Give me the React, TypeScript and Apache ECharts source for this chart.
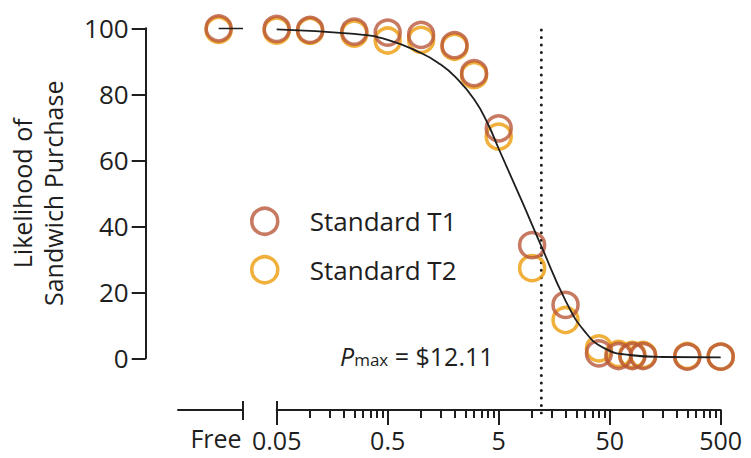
import React, { useEffect, useRef } from 'react';
import * as echarts from 'echarts';

// ---- data ----
const prices = [0.05, 0.1, 0.25, 0.5, 1, 2, 3, 5, 10, 20, 40, 60, 80, 100, 250, 500];
const t1Values = [99.8, 99.5, 99.0, 98.7, 98.0, 94.9, 86.4, 69.7, 34.3, 16.2, 1.5, 0.7, 0.7, 0.7, 0.5, 0.5];
const t2Values = [99.3, 99.2, 98.4, 96.3, 96.5, 94.4, 85.8, 67.2, 27.3, 11.6, 3.0, 1.3, 1.0, 1.0, 0.7, 0.5];
const freeT1 = 100;
const freeT2 = 99.5;
const freeFit = 100;

const fitPrices = [0.05, 0.25, 0.5, 1, 1.5, 2, 3, 4, 5, 8, 12.1, 20, 30, 45, 75, 150, 500];
const fitValues = [99.7, 98.3, 96.5, 92.5, 89.0, 85.5, 78.5, 71, 63.5, 48, 34, 17.5, 8, 3, 1, 0.4, 0.3];

const pmax = 12.11;

const xTickLabels = [0.05, 0.5, 5, 50, 500];
const xMinorTicks = [
  0.1, 0.15, 0.2, 0.25, 0.3, 0.35, 0.4, 0.45,
  1, 1.5, 2, 2.5, 3, 3.5, 4, 4.5,
  10, 15, 20, 25, 30, 35, 40, 45,
  100, 150, 200, 250, 300, 350, 400, 450,
];
const yTicks = [0, 20, 40, 60, 80, 100];
const freeLabel = 'Free';
const seriesNames = ['Standard T1', 'Standard T2'];

// free-axis geometry (value space of the small "Free" axis)
const freeMin = -1;
const freeMax = 0.6;
const freePos = 0;

const FONT = "'Open Sans', 'Noto Sans', sans-serif";
const INK = '#1e1e1e';
const C1 = '#B9573A';
const C2 = '#EC9C0A';

const AX_OFFSET = 51.7;

function buildOption() {
  const ringStyle = (c: string) => ({ color: 'rgba(0,0,0,0)', borderColor: c, borderWidth: 3.5 });
  const axisLineStyle = { color: INK, width: 2 };

  return {
    animation: false,
    backgroundColor: '#ffffff',
    grid: [
      { left: 276.7, top: 28.3, width: 444, height: 330, containLabel: false, outerBoundsMode: 'none' },
      { left: 178, top: 28.3, width: 65, height: 330, containLabel: false, outerBoundsMode: 'none' },
      { left: 276.7, top: 26, width: 444, height: 387, containLabel: false, outerBoundsMode: 'none' },
    ],
    xAxis: [
      {
        gridIndex: 0, type: 'log', logBase: 10, min: 0.05, max: 500, position: 'bottom', offset: AX_OFFSET,
        axisLine: { show: true, onZero: false, lineStyle: axisLineStyle },
        axisTick: { show: true, customValues: xTickLabels, length: 15, lineStyle: axisLineStyle },
        axisLabel: {
          show: true, customValues: xTickLabels, fontSize: 25, lineHeight: 21, color: INK, fontFamily: FONT, margin: 19,
          hideOverlap: false, showMinLabel: true, showMaxLabel: true,
          formatter: (v: any) => String(parseFloat(Number(v).toPrecision(4))),
        },
        splitLine: { show: false }, minorTick: { show: false },
      },
      {
        gridIndex: 0, type: 'log', logBase: 10, min: 0.05, max: 500, position: 'bottom', offset: AX_OFFSET,
        axisLine: { show: false, onZero: false },
        axisTick: { show: true, customValues: xMinorTicks, length: 8, lineStyle: axisLineStyle },
        axisLabel: { show: false },
        splitLine: { show: false },
      },
      {
        gridIndex: 0, type: 'log', logBase: 10, min: 0.05, max: 500, position: 'bottom', offset: AX_OFFSET,
        axisLine: { show: false, onZero: false },
        axisTick: { show: true, inside: true, customValues: [0.05], length: 9, lineStyle: axisLineStyle },
        axisLabel: { show: false },
        splitLine: { show: false },
      },
      {
        gridIndex: 1, type: 'value', min: freeMin, max: freeMax, position: 'bottom', offset: AX_OFFSET,
        axisLine: { show: true, onZero: false, lineStyle: axisLineStyle },
        axisTick: { show: true, customValues: [freeMax], length: 10, lineStyle: axisLineStyle },
        axisLabel: { show: false },
        splitLine: { show: false },
        name: freeLabel, nameLocation: 'middle', nameGap: 15,
        nameTextStyle: { fontSize: 25, color: INK, fontFamily: FONT, padding: [0, 0, 0, 11] },
      },
      {
        gridIndex: 1, type: 'value', min: freeMin, max: freeMax, position: 'bottom', offset: AX_OFFSET,
        axisLine: { show: false, onZero: false },
        axisTick: { show: true, inside: true, customValues: [freeMax], length: 9, lineStyle: axisLineStyle },
        axisLabel: { show: false },
        splitLine: { show: false },
      },
      {
        gridIndex: 2, type: 'log', logBase: 10, min: 0.05, max: 500, show: false,
      },
    ],
    yAxis: [
      {
        gridIndex: 0, type: 'value', min: 0, max: 100, interval: 20, position: 'left', offset: 131,
        axisLine: { show: true, onZero: false, lineStyle: axisLineStyle },
        axisTick: { show: true, length: 14, lineStyle: axisLineStyle, customValues: yTicks },
        axisLabel: { show: true, fontSize: 26, color: INK, fontFamily: FONT, margin: 17, customValues: yTicks },
        splitLine: { show: false },
        name: 'Likelihood of\nSandwich Purchase', nameLocation: 'middle', nameGap: 77,
        nameTextStyle: { fontSize: 25, lineHeight: 31, color: INK, fontFamily: FONT },
      },
      { gridIndex: 1, type: 'value', min: 0, max: 100, show: false },
      { gridIndex: 2, type: 'value', min: 0, max: 1, show: false },
    ],
    legend: {
      orient: 'vertical', left: 245, top: 201.5, itemWidth: 80, itemHeight: 26, itemGap: 19,
      selectedMode: false,
      data: [
        { name: seriesNames[0], icon: 'circle', itemStyle: ringStyle(C1) },
        { name: seriesNames[1], icon: 'circle', itemStyle: ringStyle(C2) },
      ],
      textStyle: { fontSize: 26, color: INK, fontFamily: FONT },
    },
    graphic: [
      {
        type: 'text', left: 340, top: 343, z: 10,
        style: {
          text: '{p|P}{s|max}{e| = $12.11}',
          fill: INK,
          rich: {
            p: { fontSize: 25, fontStyle: 'italic', fontFamily: FONT, fill: INK, lineHeight: 25, verticalAlign: 'bottom' },
            s: { fontSize: 17, fontFamily: FONT, fill: INK, lineHeight: 17, verticalAlign: 'bottom' },
            e: { fontSize: 25, fontFamily: FONT, fill: INK, lineHeight: 25, verticalAlign: 'bottom' },
          },
        },
      },
    ],
    series: [
      {
        name: seriesNames[1], type: 'scatter', xAxisIndex: 0, yAxisIndex: 0, z: 2,
        symbol: 'circle', symbolSize: 25, itemStyle: ringStyle(C2),
        data: prices.map((p, i) => [p, t2Values[i]]),
      },
      {
        name: seriesNames[0], type: 'scatter', xAxisIndex: 0, yAxisIndex: 0, z: 3,
        symbol: 'circle', symbolSize: 25, itemStyle: ringStyle(C1),
        data: prices.map((p, i) => [p, t1Values[i]]),
      },
      {
        name: seriesNames[1], type: 'scatter', xAxisIndex: 3, yAxisIndex: 1, z: 2,
        symbol: 'circle', symbolSize: 25, itemStyle: ringStyle(C2),
        data: [[freePos, freeT2]],
      },
      {
        name: seriesNames[0], type: 'scatter', xAxisIndex: 3, yAxisIndex: 1, z: 3,
        symbol: 'circle', symbolSize: 25, itemStyle: ringStyle(C1),
        data: [[freePos, freeT1]],
      },
      {
        name: 'fit', type: 'line', xAxisIndex: 0, yAxisIndex: 0, z: 4,
        showSymbol: false, symbol: 'none', smooth: 0.5,
        lineStyle: { color: INK, width: 1.8 },
        data: fitPrices.map((p, i) => [p, fitValues[i]]),
      },
      {
        name: 'fitFree', type: 'line', xAxisIndex: 3, yAxisIndex: 1, z: 4,
        showSymbol: false, symbol: 'none',
        lineStyle: { color: INK, width: 1.8 },
        data: [[freePos, freeFit], [freeMax, freeFit]],
      },
      {
        name: 'pmax', type: 'line', xAxisIndex: 5, yAxisIndex: 2, z: 1,
        showSymbol: false, symbol: 'none',
        lineStyle: { color: INK, width: 3, type: [0.01, 7.5], cap: 'round' },
        data: [[pmax, 0], [pmax, 1]],
      },
    ],
  };
}

export default function App() {
  const ref = useRef<HTMLDivElement>(null);
  useEffect(() => {
    if (!ref.current) return;
    const chart = echarts.init(ref.current, null, { renderer: 'svg' });
    chart.setOption(buildOption() as any);
    return () => chart.dispose();
  }, []);
  return (
    <div
      ref={ref}
      style={{ position: 'fixed', left: 0, top: 0, width: 751, height: 458, background: '#fff' }}
    />
  );
}
